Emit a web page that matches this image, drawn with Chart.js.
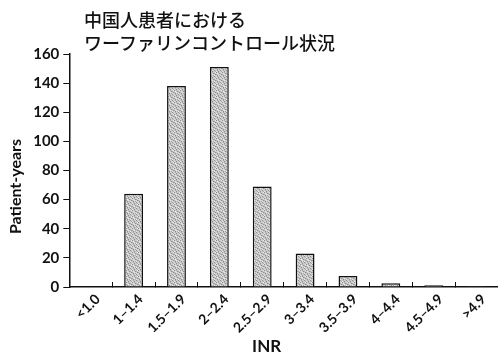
<!DOCTYPE html>
<html>
<head>
<meta charset="utf-8">
<script src="https://cdn.jsdelivr.net/npm/chart.js@4.4.1/dist/chart.umd.min.js"></script>
<style>
  html, body { margin: 0; padding: 0; background: #fff; }
  #wrap { position: relative; width: 498px; height: 361px; }
  #title {
    position: absolute; left: 84px; top: 8px;
    font-family: "Noto Sans CJK JP", sans-serif; font-size: 18px; line-height: 23px;
    font-weight: 500; color: #111;
  }
</style>
</head>
<body>
<div id="wrap">
  <canvas id="inrChart" width="498" height="361"></canvas>
  <div id="title">中国人患者における<br>ワーファリンコントロール状況</div>
</div>
<script>
// INR 区分ごとの患者年
const inrBins = ['<1.0', '1–1.4', '1.5–1.9', '2–2.4', '2.5–2.9', '3–3.4', '3.5–3.9', '4–4.4', '4.5–4.9', '>4.9'];
const patientYears = [0.4, 64, 138, 151, 69, 23, 7.5, 2.5, 1.2, 0.6];
const yTicks = [0, 20, 40, 60, 80, 100, 120, 140, 160];

// 網点っぽい灰色パターン (固定配置)
function stipple() {
    const c = document.createElement('canvas');
    c.width = 6; c.height = 6;
    const g = c.getContext('2d');
    g.fillStyle = '#cdcdcd';
    g.fillRect(0, 0, 6, 6);
    g.fillStyle = '#8e8e8e';
    [[0,0],[3,1],[5,2],[1,3],[4,4],[2,5]].forEach(p => g.fillRect(p[0], p[1], 1, 1));
    g.fillStyle = '#ababab';
    [[2,0],[0,2],[4,1],[3,3],[5,5],[1,4]].forEach(p => g.fillRect(p[0], p[1], 1, 1));
    g.fillStyle = '#e6e6e6';
    [[5,0],[1,1],[2,2],[0,5],[4,3]].forEach(p => g.fillRect(p[0], p[1], 1, 1));
    return g.createPattern(c, 'repeat');
}

const ctx = document.getElementById('inrChart').getContext('2d');
const boldFont = { family: 'Lato, "DejaVu Sans", sans-serif', weight: 'bold' };

new Chart(ctx, {
    type: 'bar',
    data: {
        labels: inrBins,
        datasets: [{
            data: patientYears,
            backgroundColor: stipple(),
            borderColor: '#111',
            borderWidth: 1.5,
            categoryPercentage: 1,
            barPercentage: 0.44
        }]
    },
    options: {
        responsive: false,
        animation: false,
        layout: { padding: { top: 54, right: 0, left: 6, bottom: 4 } },
        plugins: { legend: { display: false }, tooltip: { enabled: false } },
        scales: {
            x: {
                offset: true,
                afterFit: s => { s.height = 70; },
                grid: { offset: true, drawOnChartArea: false, drawTicks: true, tickLength: -5, color: '#111', lineWidth: 1 },
                border: { color: '#111', width: 1.5 },
                ticks: {
                    color: '#111', font: { ...boldFont, size: 14 },
                    maxRotation: 45, minRotation: 45, labelOffset: 7, padding: 9, autoSkip: false
                },
                // 元図は中央よりやや左
                title: { display: true, text: 'INR\u2002\u2002\u2002\u2002', color: '#111', font: { ...boldFont, size: 17 }, padding: { top: 4, bottom: 0 } }
            },
            y: {
                min: 0, max: 160,
                afterBuildTicks: s => { s.ticks = yTicks.map(v => ({ value: v })); },
                grid: { drawOnChartArea: false, drawTicks: true, tickLength: 6, color: '#111', lineWidth: 1 },
                border: { color: '#111', width: 1.5 },
                ticks: { color: '#111', font: { ...boldFont, size: 15 }, padding: 4 },
                title: { display: true, text: 'Patient-years\u2002\u2002\u2002\u2002', color: '#111', font: { ...boldFont, size: 16 }, padding: { top: 0, bottom: 4 } }
            }
        }
    }
});
</script>
</body>
</html>
